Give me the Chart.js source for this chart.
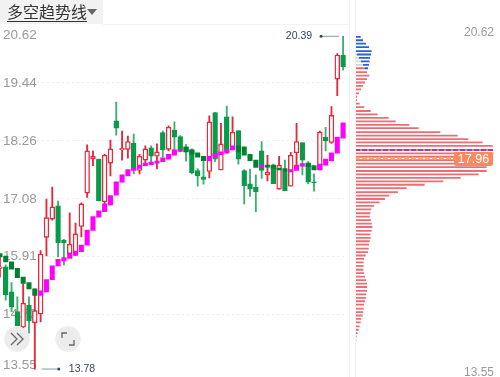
<!DOCTYPE html>
<html>
<head>
<meta charset="utf-8">
<script src="https://cdn.jsdelivr.net/npm/chart.js@4"></script>
<style>
  html, body { margin: 0; padding: 0; background: #fff; }
  #page { position: relative; width: 500px; height: 377px; overflow: hidden; font-family: "Liberation Sans", sans-serif; }
  canvas { position: absolute; top: 0; }
  #kline { left: -3px; }
  #profile { left: 355px; }
  .divider { position: absolute; top: 0; width: 1px; height: 377px; background: #f1f1f1; }
  #tab { position: absolute; left: 0; top: 0; width: 103px; height: 24px; background: #f2f2f2; }
  #tab span { position: absolute; left: 7px; top: 1px; font: 16px/20px "Noto Sans CJK SC", sans-serif; color: #333; border-bottom: 1px solid #333; }
  #tab i { position: absolute; left: 87px; top: 9px; border: 5px solid transparent; border-top: 6px solid #666; border-bottom: 0; }
  #rule { position: absolute; left: 103px; top: 24px; width: 246px; height: 1px; background: #f3f3f3; }
  .right-label { position: absolute; right: 6px; font-size: 12px; line-height: 16px; color: #999; }
  #last { position: absolute; left: 454px; top: 152px; width: 39px; height: 14px; background: #fa8a5c; border-radius: 2px; color: #fff; font-size: 12.5px; line-height: 14px; text-align: center; }
  .round { position: absolute; top: 326px; width: 26px; height: 26px; }
</style>
</head>
<body>
<div id="page">
  <canvas id="kline" width="349" height="377"></canvas>
  <canvas id="profile" width="145" height="377"></canvas>
  <div class="divider" style="left:349px"></div>
  <div class="divider" style="left:355px"></div>
  <div id="tab"><span>多空趋势线</span><i></i></div>
  <div id="rule"></div>
  <div class="right-label" style="top:24px">20.62</div>
  <div class="right-label" style="top:364px">13.55</div>
  <div id="last">17.96</div>
  <svg class="round" style="left:4px" viewBox="0 0 26 26">
    <circle cx="13" cy="13" r="12.7" fill="#ececec"/>
    <path d="M7 7l6 6-6 6M13 7l6 6-6 6" fill="none" stroke="#666" stroke-width="1.3"/>
  </svg>
  <svg class="round" style="left:55px" viewBox="0 0 26 26">
    <circle cx="13" cy="13" r="12.7" fill="#ececec"/>
    <path d="M7 12V7h5M19 14v5h-5" fill="none" stroke="#666" stroke-width="1.3"/>
  </svg>
</div>
<script>
// candles
const opens  = [15.67,15.70,15.19,14.79,14.47,14.92,14.56,14.74,16.30,16.67,16.94,16.24,15.97,15.94,16.52,17.20,17.90,17.89,17.02,17.81,
                18.67,18.08,18.09,18.22,17.66,17.87,18.12,17.95,18.43,18.09,18.48,18.35,18.13,18.08,17.66,17.53,17.64,18.84,17.67,18.75,
                18.11,18.47,17.66,17.39,17.32,18.06,17.57,17.77,17.28,17.64,17.34,18.02,18.23,17.81,17.43,17.68,18.34,18.23,19.52,20.01];
const closes = [15.70,15.13,14.88,14.50,14.96,14.60,14.81,15.96,16.70,16.92,16.19,16.19,16.16,16.37,16.98,18.06,17.95,17.04,17.97,18.10,
                18.52,18.11,18.25,17.67,17.95,18.10,17.95,18.04,18.08,18.54,18.34,18.08,18.04,17.61,17.55,17.48,18.65,17.89,18.20,18.04,
                18.44,17.89,17.35,17.28,17.23,17.66,17.62,17.39,17.77,17.25,17.97,18.25,17.87,17.42,17.41,18.44,18.26,18.78,20.01,19.77];
const highs  = [15.90,15.74,15.38,15.09,15.36,15.09,15.25,16.03,17.08,17.32,17.04,16.26,16.80,16.59,17.00,18.18,18.06,17.89,17.99,18.28,
                19.05,18.46,18.36,18.40,17.99,18.16,18.16,18.20,18.46,18.57,18.65,18.37,18.19,18.10,17.70,17.91,18.77,18.84,18.62,18.97,
                18.75,18.47,17.68,17.69,17.57,18.25,17.97,17.79,17.95,17.87,18.03,18.62,18.23,17.84,17.59,18.46,18.54,18.96,20.04,20.39];
const lows   = [15.49,15.02,14.79,14.50,14.45,14.35,13.62,14.58,15.92,16.65,15.90,15.74,15.94,15.93,16.31,17.11,17.76,17.04,16.96,17.55,
                18.38,17.87,17.91,17.59,17.59,17.81,17.83,17.69,17.93,18.06,18.02,18.04,17.85,17.59,17.34,17.38,17.51,17.84,17.67,18.01,
                18.08,17.79,16.98,17.13,16.82,17.50,17.45,17.39,17.28,17.25,17.34,17.74,17.57,17.39,17.24,17.67,18.06,18.21,19.18,19.70];

// trend line blocks
const trendTops    = [15.97,15.92,15.80,15.67,15.49,15.38,15.25,15.21,15.44,15.72,15.85,15.89,15.96,16.02,16.14,16.45,16.72,16.84,16.98,17.15,
                      17.43,17.57,17.68,17.72,17.77,17.81,17.83,17.85,17.92,17.99,18.08,18.09,18.14,18.08,18.02,17.95,17.95,18.01,18.04,18.09,
                      18.16,18.16,18.14,17.99,17.87,17.77,17.77,17.77,17.71,17.70,17.68,17.77,17.80,17.81,17.76,17.79,17.89,18.02,18.34,18.63];
const trendBottoms = [15.90,15.80,15.65,15.48,15.36,15.25,15.12,15.12,15.19,15.44,15.72,15.82,15.87,15.93,16.01,16.14,16.44,16.71,16.82,16.96,
                      17.16,17.42,17.55,17.66,17.70,17.76,17.78,17.81,17.84,17.89,17.97,18.05,18.04,17.99,17.93,17.86,17.86,17.93,17.98,18.01,
                      18.08,18.04,17.97,17.86,17.72,17.72,17.73,17.70,17.67,17.64,17.63,17.66,17.75,17.74,17.67,17.67,17.77,17.86,18.01,18.32];
const trendRising  = [0,0,0,0,0,0,0,1,1,1,1,1,1,1,1,1,1,1,1,1,
                      1,1,1,1,1,1,1,1,1,1,1,1,0,0,0,0,1,1,1,1,
                      1,0,0,0,0,1,0,0,0,0,1,1,1,0,0,1,1,1,1,1];

// volume profile on the right
const profilePrices = [20.38,20.31,20.24,20.17,20.09,20.02,19.95,19.88,19.81,19.74,19.66,19.59,19.52,19.45,19.38,19.31,19.23,19.16,19.09,19.02,
                       18.95,18.87,18.80,18.73,18.66,18.59,18.52,18.44,18.37,18.30,18.23,18.16,18.08,18.01,17.94,17.87,17.80,17.73,17.65,17.58,
                       17.51,17.44,17.37,17.30,17.22,17.15,17.08,17.01,16.94,16.87,16.79,16.72,16.65,16.58,16.51,16.43,16.36,16.29,16.22,16.15,
                       16.07,16.00,15.93,15.86,15.79,15.72,15.64,15.57,15.50,15.43,15.36,15.29,15.21,15.14,15.07,15.00,14.93,14.85,14.78,14.71,
                       14.64,14.57,14.49,14.42,14.35,14.28,14.21,14.14,14.06,13.99];
const profileRed  = [0,0,0,0,0,0,0,0,0,30,36,43,36,30,24,18,12,6,6,14,
                     28,47,68,101,122,163,191,256,308,340,383,413,415,415,410,410,400,395,395,371,
                     317,265,209,155,129,103,90,74,57,49,46,44,48,50,52,50,46,47,44,42,
                     41,39,32,27,26,26,25,27,30,33,36,36,36,33,33,30,27,26,24,23,
                     19,17,14,11,8,5,4,3,2,1];
const profileGray = [0,0,0,0,0,5,12,17,24];
const profileBlue = [17,24,33,42,50,43,33,27,18,9];

const leftTicks = [20.62,19.44,18.26,17.08,15.91,14.73,13.55];
const lastPrice = 17.92;
const avgPrice = 18.08;
const highMark = 20.39;
const lowMark = 13.78;

const RED = '#e4293c', GREEN = '#0b9a4b', WICK_GREEN = '#3fae75';
const slots = opens.map((_, i) => i);
const isUp = i => closes[i] >= opens[i];

// end labels sit inside the plot and the high/low markers need a leader line
const overlayLabels = {
    id: 'overlayLabels',
    beforeDatasetsDraw(chart) {
        const { ctx, scales: { y } } = chart;
        ctx.save();
        ctx.font = '13.5px "Liberation Sans"';
        ctx.fillStyle = '#999';
        ctx.textBaseline = 'middle';
        ctx.fillText('20.62', 6, y.getPixelForValue(20.62) + 10);
        ctx.fillText('13.55', 6, y.getPixelForValue(13.55) - 7);
        ctx.restore();
    },
    afterDatasetsDraw(chart) {
        const { ctx, scales: { x, y } } = chart;
        const mark = (px, py, near, far, textAt, text) => {
            ctx.strokeStyle = '#8b95a3';
            ctx.fillStyle = '#36465c';
            ctx.lineWidth = 1;
            ctx.beginPath();
            ctx.moveTo(px + near, py);
            ctx.lineTo(px + far, py);
            ctx.stroke();
            ctx.beginPath();
            ctx.arc(px + far, py, 1.5, 0, Math.PI * 2);
            ctx.fill();
            ctx.font = '10.5px "Liberation Sans"';
            ctx.textBaseline = 'middle';
            ctx.textAlign = textAt > 0 ? 'left' : 'right';
            ctx.fillText(text, px + textAt, py);
        };
        ctx.save();
        mark(x.getPixelForValue(59), y.getPixelForValue(highMark), -4, -22, -31, String(highMark));
        mark(x.getPixelForValue(6), y.getPixelForValue(13.62), 7, 24, 34, String(lowMark));
        ctx.restore();
    }
};

new Chart(document.getElementById('kline'), {
    type: 'bar',
    data: {
        labels: slots,
        datasets: [{
            label: 'trend',
            order: 1,
            data: slots.map(i => [trendBottoms[i], trendTops[i]]),
            backgroundColor: slots.map(i => trendRising[i] ? '#ff00ff' : '#008030'),
            barThickness: 4.4,
            grouped: false
        }, {
            label: 'body',
            order: 2,
            data: slots.map(i => [Math.min(opens[i], closes[i]), Math.max(opens[i], closes[i])]),
            backgroundColor: slots.map(i => isUp(i) ? '#fff' : GREEN),
            borderColor: slots.map(i => isUp(i) ? RED : GREEN),
            borderWidth: 1.4,
            borderSkipped: false,
            barThickness: 4.8,
            grouped: false
        }, {
            label: 'wick',
            order: 3,
            data: slots.map(i => [lows[i], highs[i]]),
            backgroundColor: slots.map(i => isUp(i) ? RED : WICK_GREEN),
            barThickness: 1.2,
            grouped: false
        }]
    },
    options: {
        responsive: false,
        animation: false,
        layout: { padding: { top: 25, bottom: 4.5, left: 0, right: 0 } },
        plugins: { legend: { display: false }, tooltip: { enabled: false } },
        scales: {
            x: { display: false, offset: true, grid: { display: false } },
            y: {
                min: 13.55,
                max: 20.62,
                afterBuildTicks: axis => { axis.ticks = leftTicks.map(value => ({ value })); },
                // labels float over the plot, so the axis must not take any room
                afterFit: axis => {
                    axis.width = 0;
                    axis.paddingTop = axis.paddingBottom = axis.paddingLeft = axis.paddingRight = 0;
                },
                border: { display: false, dash: [2, 3] },
                grid: { color: ctx => (ctx.index === 0 || ctx.index === leftTicks.length - 1) ? 'transparent' : '#ececec', drawTicks: false },
                ticks: {
                    mirror: true,
                    padding: 6,
                    color: '#999',
                    font: { family: 'Liberation Sans', size: 13.5 },
                    callback: (v, i) => (i === 0 || i === leftTicks.length - 1) ? '' : v.toFixed(2)
                }
            }
        }
    },
    plugins: [overlayLabels]
});

// dashed price lines across the profile
const priceLines = {
    id: 'priceLines',
    afterDatasetsDraw(chart) {
        const { ctx, chartArea, scales: { y } } = chart;
        const dashed = (value, color) => {
            const py = Math.round(y.getPixelForValue(value));
            ctx.strokeStyle = color;
            ctx.lineWidth = 2;
            ctx.setLineDash([5, 2]);
            ctx.beginPath();
            ctx.moveTo(chartArea.left, py);
            ctx.lineTo(139, py);
            ctx.stroke();
        };
        ctx.save();
        dashed(avgPrice, '#a6409f');
        dashed(lastPrice, '#f8a95a');
        ctx.restore();
    }
};

const rowOf = (values, i) => ({ x: values[i] || 0, y: profilePrices[i] });
const rowStyle = { barThickness: 1.8, borderWidth: 0, inflateAmount: 0 };

new Chart(document.getElementById('profile'), {
    type: 'bar',
    data: {
        datasets: [
            { label: 'gray', data: profilePrices.map((_, i) => rowOf(profileGray, i)), backgroundColor: '#d6d6d6', ...rowStyle },
            { label: 'red', data: profilePrices.map((_, i) => rowOf(profileRed, i)), backgroundColor: '#ee6c72', ...rowStyle },
            { label: 'blue', data: profilePrices.map((_, i) => rowOf(profileBlue, i)), backgroundColor: '#2a5fd6', ...rowStyle }
        ]
    },
    options: {
        indexAxis: 'y',
        responsive: false,
        animation: false,
        layout: { padding: { top: 25, bottom: 4.5, left: 0, right: 0 } },
        plugins: { legend: { display: false }, tooltip: { enabled: false } },
        scales: {
            x: { display: false, stacked: true, min: 0, max: 435 },
            y: { display: false, type: 'linear', offset: false, stacked: true, min: 13.55, max: 20.62 }
        }
    },
    plugins: [priceLines]
});
</script>
</body>
</html>
